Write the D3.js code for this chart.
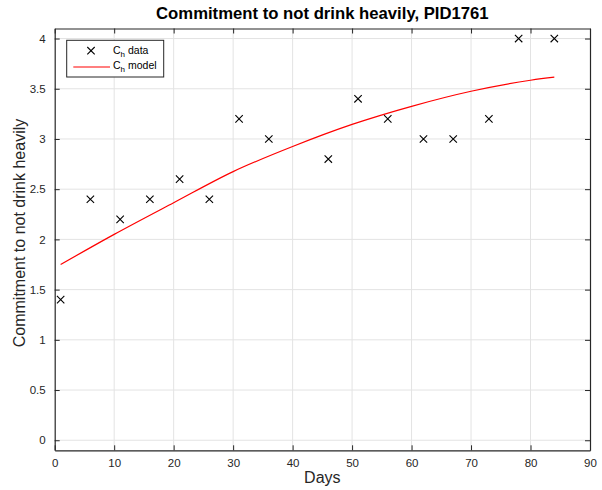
<!DOCTYPE html>
<html>
<head>
<meta charset="utf-8">
<script src="https://cdn.jsdelivr.net/npm/d3@7"></script>
<style>
  html, body { margin: 0; padding: 0; background: #fff; }
  svg { display: block; font-family: "Liberation Sans", Arial, Helvetica, sans-serif; }
</style>
</head>
<body>
<svg id="chart" width="602" height="490"></svg>
<script>
// Observed commitment scores by day
const dataDays = [1, 6, 11, 16, 21, 26, 31, 36, 46, 51, 56, 62, 67, 73, 78, 84];
const dataValues = [1.4, 2.4, 2.2, 2.4, 2.6, 2.4, 3.2, 3.0, 2.8, 3.4, 3.2, 3.0, 3.0, 3.2, 4.0, 4.0];

// Fitted model trajectory
const modelDays = [1, 10, 20, 30, 40, 50, 60, 70, 80, 84];
const modelValues = [1.75, 2.05, 2.365, 2.675, 2.925, 3.145, 3.325, 3.475, 3.585, 3.615];

const xTicks = [0, 10, 20, 30, 40, 50, 60, 70, 80, 90];
const yTicks = [0, 0.5, 1, 1.5, 2, 2.5, 3, 3.5, 4];

const svg = d3.select("#chart");
const plotLeft = 54.7, plotRight = 590, plotTop = 28.5, plotBottom = 450.3;

const x = d3.scaleLinear().domain([0, 90]).range([plotLeft, plotRight]);
const y = d3.scaleLinear().domain([-0.1, 4.1]).range([plotBottom, plotTop]);

const axisColor = "#262626";
const gridColor = "#e3e3e3";

// grid
const grid = svg.append("g");
grid.selectAll(".gx").data(xTicks.slice(1, -1)).enter().append("line")
  .attr("x1", d => x(d)).attr("x2", d => x(d))
  .attr("y1", plotTop).attr("y2", plotBottom)
  .attr("stroke", gridColor).attr("stroke-width", 1);
grid.selectAll(".gy").data(yTicks).enter().append("line")
  .attr("x1", plotLeft).attr("x2", plotRight)
  .attr("y1", d => y(d)).attr("y2", d => y(d))
  .attr("stroke", gridColor).attr("stroke-width", 1);

// axes with inward ticks on every side
const tickLen = 5;
const fmt = d3.format("~g");
const bottomAxis = d3.axisBottom(x).tickValues(xTicks).tickSizeInner(-tickLen).tickSizeOuter(0).tickPadding(9).tickFormat(fmt);
const topAxis = d3.axisTop(x).tickValues(xTicks).tickSizeInner(-tickLen).tickSizeOuter(0).tickFormat("");
const leftAxis = d3.axisLeft(y).tickValues(yTicks).tickSizeInner(-tickLen).tickSizeOuter(0).tickPadding(9).tickFormat(fmt);
const rightAxis = d3.axisRight(y).tickValues(yTicks).tickSizeInner(-tickLen).tickSizeOuter(0).tickFormat("");

function styleAxis(g) {
  g.select(".domain").attr("stroke", axisColor).attr("stroke-width", 1.2);
  g.selectAll(".tick line").attr("stroke", axisColor).attr("stroke-width", 1);
  g.selectAll(".tick text").attr("fill", axisColor).attr("font-size", 11.5)
    .attr("font-family", "Liberation Sans, Arial, sans-serif");
}
svg.append("g").attr("transform", `translate(0,${plotBottom})`).call(bottomAxis).call(styleAxis);
svg.append("g").attr("transform", `translate(0,${plotTop})`).call(topAxis).call(styleAxis);
svg.append("g").attr("transform", `translate(${plotLeft},0)`).call(leftAxis).call(styleAxis);
svg.append("g").attr("transform", `translate(${plotRight},0)`).call(rightAxis).call(styleAxis);

// model curve
const line = d3.line().x((d, i) => x(modelDays[i])).y(d => y(d)).curve(d3.curveCatmullRom.alpha(0.5));
svg.append("path").datum(modelValues)
  .attr("d", line).attr("fill", "none")
  .attr("stroke", "#ff0000").attr("stroke-width", 1.2);

// data markers
const cross = (cx, cy, r) => `M${cx - r},${cy - r}L${cx + r},${cy + r}M${cx - r},${cy + r}L${cx + r},${cy - r}`;
svg.append("g").selectAll("path").data(dataValues).enter().append("path")
  .attr("d", (d, i) => cross(x(dataDays[i]), y(d), 3.7))
  .attr("stroke", "#000").attr("stroke-width", 1.1).attr("fill", "none");

// title and axis labels
svg.append("text").attr("x", (plotLeft + plotRight) / 2).attr("y", 19.3)
  .attr("text-anchor", "middle").attr("font-size", 16.7).attr("font-weight", "bold")
  .attr("fill", "#000").text("Commitment to not drink heavily, PID1761");
svg.append("text").attr("x", (plotLeft + plotRight) / 2).attr("y", 483.3)
  .attr("text-anchor", "middle").attr("font-size", 16).attr("fill", axisColor).text("Days");
svg.append("text").attr("transform", `translate(24.5,233) rotate(-90)`)
  .attr("text-anchor", "middle").attr("font-size", 16).attr("fill", axisColor)
  .text("Commitment to not drink heavily");

// legend
const lg = svg.append("g");
lg.append("rect").attr("x", 66.7).attr("y", 40.3).attr("width", 97).attr("height", 36.7)
  .attr("fill", "#fff").attr("stroke", axisColor).attr("stroke-width", 1);
lg.append("path").attr("d", cross(91, 50.7, 3.7)).attr("stroke", "#000").attr("stroke-width", 1.1);
lg.append("line").attr("x1", 73.3).attr("x2", 110).attr("y1", 67).attr("y2", 67)
  .attr("stroke", "#ff0000").attr("stroke-width", 1.2);
const legendLabels = ["data", "model"];
legendLabels.forEach((lab, i) => {
  const t = lg.append("text").attr("x", 113).attr("y", 53.5 + i * 15.5)
    .attr("font-size", 10.5).attr("fill", "#000");
  t.append("tspan").text("C");
  t.append("tspan").attr("font-size", 8).attr("dy", 3).text("h");
  t.append("tspan").attr("dy", -3).text(" " + lab);
});
</script>
</body>
</html>
